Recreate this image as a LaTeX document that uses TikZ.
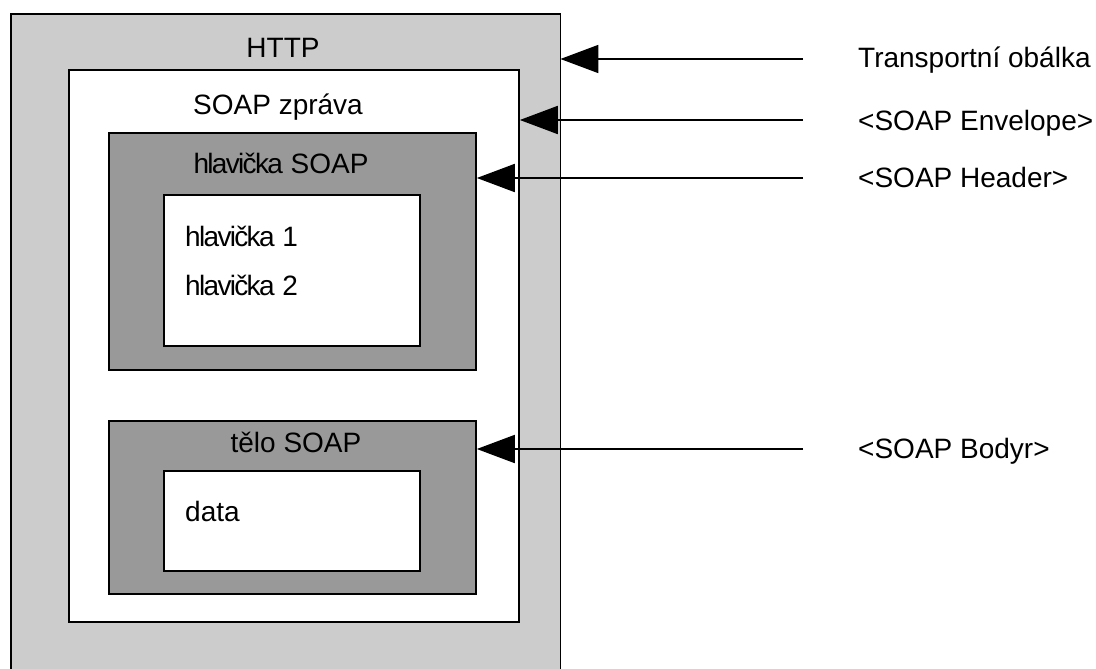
\documentclass[tikz,border=0pt]{standalone}
\usepackage{fontspec}
\setmainfont{Liberation Sans}
\usetikzlibrary{arrows.meta}
\definecolor{lgray}{HTML}{CCCCCC}
\definecolor{dgray}{HTML}{999999}
\newcommand{\tightw}[1]{{\addfontfeature{LetterSpace=-6}#1}}
\begin{document}
\begin{tikzpicture}[x=1pt,y=-1pt,
  frame/.style={draw=black,line width=1.8pt,inner sep=0pt,anchor=north west},
  lbl/.style={font=\fontsize{28}{30}\selectfont,inner sep=0pt},
  conn/.style={line width=1.8pt,-{Triangle[length=38pt,width=28pt]}}]
\useasboundingbox (0,0) rectangle (1096,669);
% outer HTTP envelope (runs past the bottom)
\node[fill=lgray,inner sep=0pt,anchor=north west,minimum width=549pt,minimum height=680pt] (http) at (11,14) {};
\draw[line width=1.8pt] (http.south west) -- (http.north west) -- (http.north east) -- (http.south east);
\node[frame,fill=white,minimum width=450pt,minimum height=552pt] (soap) at (68,69) {};
\node[frame,fill=dgray,minimum width=367pt,minimum height=237pt] (hdr) at (108,132) {};
\node[frame,fill=white,minimum width=256pt,minimum height=151pt] (hdrin) at (163,194) {};
\node[frame,fill=dgray,minimum width=367pt,minimum height=173pt] (body) at (108,420) {};
\node[frame,fill=white,minimum width=256pt,minimum height=100pt] (bodyin) at (163,470) {};
% texts
\node[lbl,anchor=base] (thttp) at (283,58) {HTTP};
\node[lbl,anchor=base] (tsoap) at (278,114) {SOAP zpráva};
\node[lbl,anchor=base] (thdr) at (281,173) {\tightw{hlavička} SOAP};
\node[lbl,anchor=base west] (th1) at (185,246) {\tightw{hlavička} 1};
\node[lbl,anchor=base west] (th2) at (185,295) {\tightw{hlavička} 2};
\node[lbl,anchor=base] (tbody) at (296,452) {tělo SOAP};
\node[lbl,anchor=base west] (tdata) at (185,521) {data};
% right labels
\node[lbl,anchor=base west] (l1) at (858,67) {Transportní obálka};
\node[lbl,anchor=base west] (l2) at (858,130) {<SOAP Envelope>};
\node[lbl,anchor=base west] (l3) at (858,187) {<SOAP Header>};
\node[lbl,anchor=base west] (l4) at (858,458) {<SOAP Bodyr>};
\coordinate (c1) at (803,59);
\coordinate (c2) at (803,120);
\coordinate (c3) at (803,178);
\coordinate (c4) at (803,449);
\draw[conn] (c1) -- (http.east |- c1);
\draw[conn] (c2) -- (soap.east |- c2);
\draw[conn] (c3) -- (hdr.east |- c3);
\draw[conn] (c4) -- (body.east |- c4);
\end{tikzpicture}
\end{document}
